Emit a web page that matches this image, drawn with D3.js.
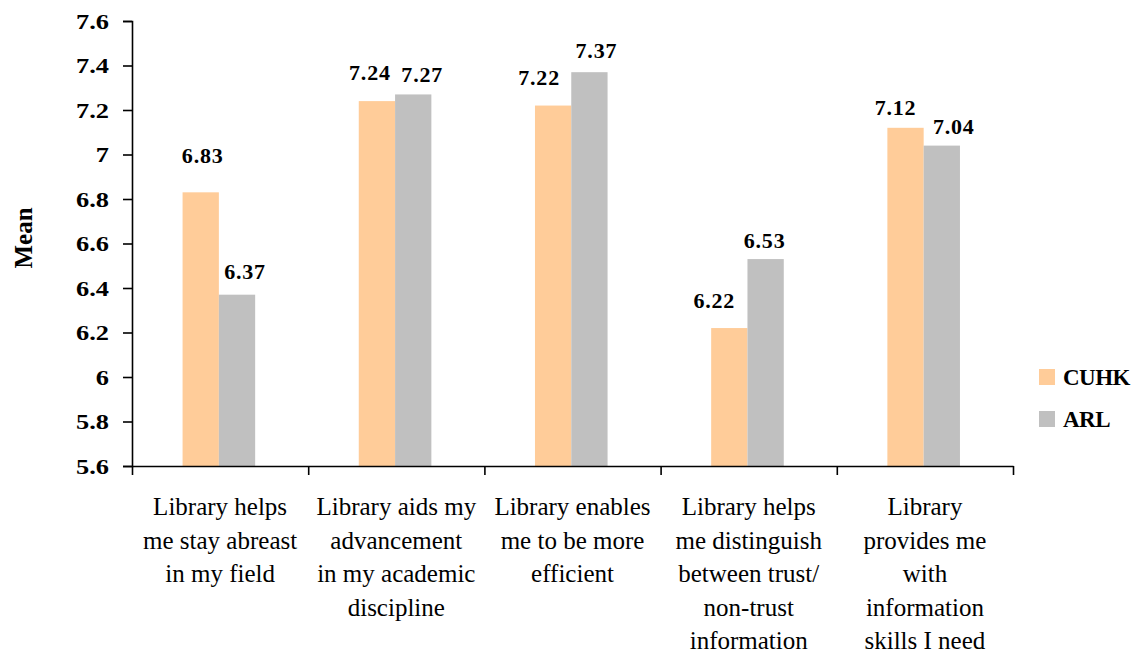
<!DOCTYPE html>
<html>
<head>
<meta charset="utf-8">
<script src="https://cdn.jsdelivr.net/npm/d3@7/dist/d3.min.js"></script>
<style>
  html, body { margin: 0; padding: 0; background: #ffffff; }
  svg { display: block; }
  text { font-family: "Liberation Serif", "Times New Roman", serif; fill: #000; }
</style>
</head>
<body>
<svg id="chart" width="1141" height="654"></svg>
<script>
// Survey items (each entry is the wrapped lines of one category label)
const categories = [
  ["Library helps", "me stay abreast", "in my field"],
  ["Library aids my", "advancement", "in my academic", "discipline"],
  ["Library enables", "me to be more", "efficient"],
  ["Library helps", "me distinguish", "between trust/", "non-trust", "information"],
  ["Library", "provides me", "with", "information", "skills I need"]
];
const seriesNames = ["CUHK", "ARL"];
const cuhkValues = [6.83, 7.24, 7.22, 6.22, 7.12];
const arlValues  = [6.37, 7.27, 7.37, 6.53, 7.04];
const yTickValues = [5.6, 5.8, 6.0, 6.2, 6.4, 6.6, 6.8, 7.0, 7.2, 7.4, 7.6];
const yTickLabels = ["5.6", "5.8", "6", "6.2", "6.4", "6.6", "6.8", "7", "7.2", "7.4", "7.6"];
const colors = { CUHK: "#FFCC99", ARL: "#C0C0C0" };

// Hand-placed value label nudges [dx, dy] relative to the default spot above each bar
const labelNudge = {
  CUHK: [[2, -15], [-7, -7], [-14, -7], [-15, -6], [-10, 1]],
  ARL:  [[8, -2],  [9, 2],   [7, 0],    [-1, 3],   [12, 2]]
};

const svg = d3.select("#chart");
svg.append("rect").attr("width", 1141).attr("height", 654).attr("fill", "#fff");

const plot = { left: 132, right: 1013, top: 21, bottom: 466 };

const catKeys = categories.map(c => c.join(" "));
const x0 = d3.scaleBand().domain(catKeys).range([plot.left, plot.right]).padding(0);
const bw = x0.bandwidth();
const x1 = d3.scaleBand().domain(seriesNames).range([bw * 0.287, bw * 0.699]).padding(0);
const y = d3.scaleLinear().domain([5.6, 7.6]).range([plot.bottom, plot.top]);

const rows = catKeys.map((k, i) => ({ key: k, CUHK: cuhkValues[i], ARL: arlValues[i], i }));

// Bars
const groups = svg.append("g").selectAll("g").data(rows).join("g")
  .attr("transform", d => `translate(${x0(d.key)},0)`);

groups.selectAll("rect").data(d => seriesNames.map(s => ({ s, v: d[s], i: d.i })))
  .join("rect")
  .attr("x", d => x1(d.s))
  .attr("y", d => y(d.v))
  .attr("width", x1.bandwidth())
  .attr("height", d => y(5.6) - y(d.v))
  .attr("fill", d => colors[d.s]);

// Value labels
groups.selectAll("text.val").data(d => seriesNames.map(s => ({ s, v: d[s], i: d.i })))
  .join("text")
  .attr("class", "val")
  .attr("x", d => x1(d.s) + x1.bandwidth() / 2 + labelNudge[d.s][d.i][0])
  .attr("y", d => y(d.v) - 14 + labelNudge[d.s][d.i][1])
  .attr("text-anchor", "middle")
  .attr("font-size", 22)
  .attr("font-weight", "bold")
  .attr("letter-spacing", 0.8)
  .text(d => d.v.toFixed(2));

// Y axis
const yAxis = svg.append("g")
  .attr("transform", `translate(${plot.left},0)`)
  .call(d3.axisLeft(y).tickValues(yTickValues).tickSize(9).tickPadding(14)
        .tickFormat((d, i) => yTickLabels[i]));
yAxis.select(".domain").attr("stroke", "#000").attr("stroke-width", 1.6);
yAxis.selectAll(".tick line").attr("stroke", "#000").attr("stroke-width", 1.6);
yAxis.selectAll(".tick text")
  .attr("x", 0)
  .attr("dy", null)
  .attr("y", 7)
  .attr("transform", "translate(-23,0) scale(1.2,1)")
  .attr("font-family", "Liberation Serif, Times New Roman, serif")
  .attr("font-size", 22)
  .attr("font-weight", "bold")
  .attr("fill", "#000");

// X axis with ticks on category boundaries
const xb = d3.scaleLinear().domain([0, catKeys.length]).range([plot.left, plot.right]);
const xAxis = svg.append("g")
  .attr("transform", `translate(0,${plot.bottom})`)
  .call(d3.axisBottom(xb).tickValues(d3.range(catKeys.length + 1)).tickSize(9).tickSizeOuter(0).tickFormat(""));
xAxis.select(".domain").attr("stroke", "#000").attr("stroke-width", 1.6);
xAxis.selectAll(".tick line").attr("stroke", "#000").attr("stroke-width", 1.6);

// Category labels
const catLabels = svg.append("g").selectAll("text").data(categories).join("text")
  .attr("text-anchor", "middle")
  .attr("font-size", 25)
  .attr("transform", (d, i) => `translate(${x0(catKeys[i]) + bw / 2},515)`);
catLabels.selectAll("tspan").data(d => d).join("tspan")
  .attr("x", 0)
  .attr("y", (d, j) => j * 33.5)
  .text(d => d);

// Y axis title
svg.append("text")
  .attr("transform", "translate(32,238) rotate(-90)")
  .attr("text-anchor", "middle")
  .attr("font-size", 25)
  .attr("font-weight", "bold")
  .text("Mean");

// Legend
const legend = svg.append("g").selectAll("g").data(seriesNames).join("g")
  .attr("transform", (d, i) => `translate(1039,${369 + i * 42})`);
legend.append("rect").attr("width", 16).attr("height", 16).attr("fill", d => colors[d]);
legend.append("text").attr("x", 24).attr("y", 16)
  .attr("font-size", 23).attr("font-weight", "bold")
  .attr("letter-spacing", -0.5)
  .text(d => d);
</script>
</body>
</html>
